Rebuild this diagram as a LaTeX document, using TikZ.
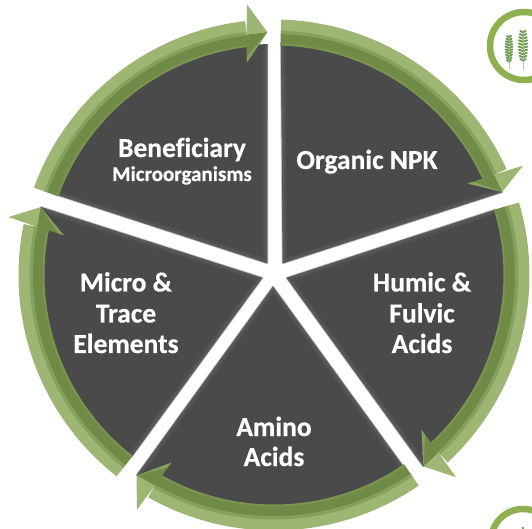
\documentclass[tikz,border=0pt]{standalone}
\usepackage{fontspec}
\setmainfont[Ligatures=NoCommon,BoldFeatures={FakeBold=0.5}]{Carlito}
\definecolor{wedgefill}{HTML}{4A4A4A}
\definecolor{wedgeedge}{HTML}{595959}
\definecolor{bandlight}{HTML}{9DB674}
\definecolor{bandmid}{HTML}{86A05D}
\definecolor{banddark}{HTML}{6F8B47}
\definecolor{bandrim}{HTML}{7A9550}
\definecolor{ringgreen}{HTML}{8FB04F}
\definecolor{eargreen}{HTML}{6E9A50}
\definecolor{stemgreen}{HTML}{B9CFA0}
\tikzset{
  bigtext/.style={text=white,font=\fontsize{27.5}{27.5}\selectfont\bfseries,inner sep=0pt,anchor=base},
  smalltext/.style={text=white,font=\fontsize{21}{21}\selectfont\bfseries,inner sep=0pt,anchor=base},
  iconring/.style={draw=ringgreen,line width=6.5pt,fill=white},
}
% apex, arc start angle, arc end angle, end point of the outline
\newcommand{\dwedge}[4]{%
  \def\wpath{#1 -- (#2:231pt) arc[start angle=#2,end angle=#3,radius=231pt] -- #4 -- cycle}%
  \def\wedges{(#2:231pt) -- #1 -- #4}%
  \draw[line width=2.6pt,draw=black!18,line join=round] \wedges;
  \draw[line width=1.3pt,draw=black!40,line join=round] \wedges;
  \fill[wedgefill] \wpath;
  \begin{scope}
    \clip \wpath;
    \draw[line width=8pt,draw=wedgeedge!45!wedgefill] \wedges;
    \draw[line width=4pt,draw=wedgeedge] \wedges;
  \end{scope}
}
\newcommand{\bandlayer}[5]{%
  \fill[#5] (#1:#4pt) arc[start angle=#1,end angle=#2,radius=#4pt]
     -- (#2:#3pt) arc[start angle=#2,end angle=#1,radius=#3pt] -- cycle;
}
% tail angle, head base angle, tip angle
\newcommand{\ringarrow}[3]{%
  \bandlayer{#1}{#2}{244}{255.5}{bandlight}
  \bandlayer{#1}{#2}{240.5}{244.5}{bandmid}
  \bandlayer{#1}{#2}{231}{241}{banddark}
  \bandlayer{#1}{#2}{229.5}{231.5}{bandrim}
  \fill[bandlight] ({#2-0.8}:272pt) -- (#3:243pt) -- (#2:242pt) -- cycle;
  \fill[banddark] ({#2+0.8}:214pt) -- (#3:243pt) -- (#2:242pt) -- cycle;
  \fill[bandmid] ({#2+0.8}:214pt) -- (#3:243pt) -- ({#2+0.55}:220pt) -- cycle;
}
\newcommand{\wheatear}[5]{% x, top y, bottom y, stem bottom y, half width
  \draw[stemgreen,line width=1pt] (#1,#3) -- (#1,#4);
  \foreach \k in {0,...,9}{
    \pgfmathsetmacro{\yy}{#2-1-(#2-#3-3)*\k/9}
    \pgfmathsetmacro{\hw}{#5*(0.45+0.55*sin(180*(\k+1)/11))}
    \draw[eargreen,line width=1.9pt,line cap=round] (#1-\hw,\yy) -- (#1,\yy-1.4) -- (#1+\hw,\yy);
  }
  \draw[eargreen!70!white,line width=0.8pt] (#1,#2) -- (#1,#3);
}
\begin{document}
\begin{tikzpicture}[x=1pt,y=1pt]
\useasboundingbox (-274,-254) rectangle (258,275);
\fill[white] (-274,-254) rectangle (258,275);
\clip (-274,-254) rectangle (258,275);

% dark wedges
\dwedge{(9,12)}{88.2}{22}{(20:243pt)}
\dwedge{(13,-3)}{16.4}{-50}{(-52:243pt)}
\dwedge{(-1,-12)}{-56}{-122}{(-124.4:243pt)}
\dwedge{(-12,-3)}{231.9}{166}{(163.8:243pt)}
\dwedge{(-7,12)}{159.7}{91.7}{(91.7:231pt)}

% green ring arrows
\ringarrow{88.4}{24.5}{20}
\ringarrow{16.5}{-47.2}{-52}
\ringarrow{-55.5}{-119.5}{-124.4}
\ringarrow{232}{168.5}{163.8}
\ringarrow{160}{96.5}{91.6}

% labels
\node[bigtext] (ben) at (-92,118) {Beneficiary};
\node[smalltext] (mic) at (-92,94) {Microorganisms};
\node[bigtext] (npk) at (93,106) {Organic NPK};
\node[bigtext] (hum1) at (148,-16.5) {Humic \&};
\node[bigtext] (hum2) at (148,-47.5) {Fulvic};
\node[bigtext] (hum3) at (148,-78) {Acids};
\node[bigtext] (ami1) at (0,-161) {Amino};
\node[bigtext] (ami2) at (0,-191) {Acids};
\node[bigtext] (mt1) at (-148,-16.5) {Micro \&};
\node[bigtext] (mt2) at (-148,-47.5) {Trace};
\node[bigtext] (mt3) at (-148,-78) {Elements};

% icons
\draw[iconring] (250,229) circle[radius=34pt];
\wheatear{235}{240}{213}{206}{3.4}
\wheatear{249}{245}{214}{205}{4.4}
\draw[iconring] (249,-266) circle[radius=32pt];
\fill[eargreen] (249,-253) circle[radius=1.3pt];
\end{tikzpicture}
\end{document}
